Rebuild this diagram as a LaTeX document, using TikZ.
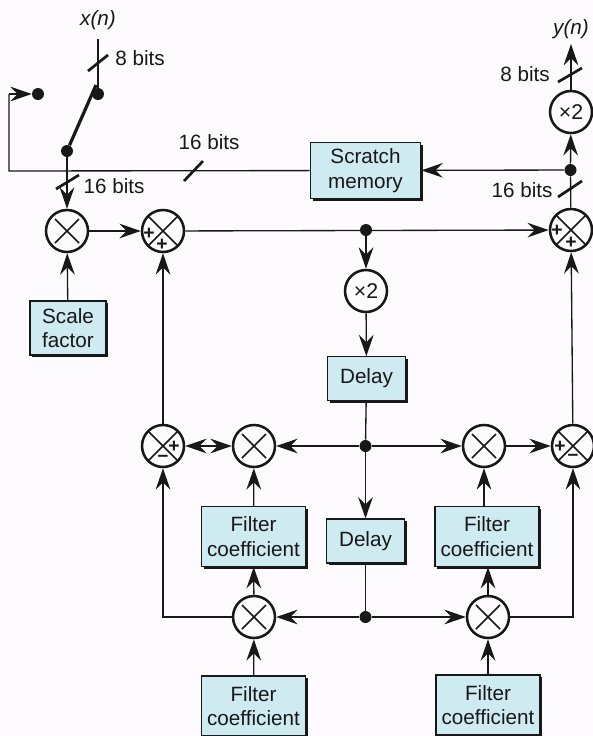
\documentclass[tikz,border=0pt]{standalone}
\usepackage{fontspec}
\setmainfont{Liberation Sans}
\usetikzlibrary{arrows.meta,shadows,calc}
\definecolor{boxfill}{HTML}{CDEBF1}
\definecolor{ink}{HTML}{1A1718}
\definecolor{paper}{HTML}{FDFBFE}
\tikzset{
  x=0.75pt,y=-0.75pt,
  every node/.style={text=ink},
  wire/.style={draw=ink,line width=1pt},
  flow/.style={wire,-{Stealth[length=16pt,width=11pt,inset=5.5pt]}},
  dflow/.style={wire,{Stealth[length=16pt,width=11pt,inset=5.5pt]}-{Stealth[length=16pt,width=11pt,inset=5.5pt]}},
  blockbox/.style={draw=ink,line width=0.9pt,fill=boxfill,align=center,inner sep=0pt,
    font=\fontsize{15.5}{18.5}\selectfont,
    general shadow={fill=ink,shadow xshift=1.8pt,shadow yshift=-1.8pt}},
  ring/.style={circle,draw=ink,line width=1.9pt,fill=paper,minimum size=31.5pt,inner sep=0pt},
  mult/.style={ring,path picture={
    \draw[ink,line width=1.1pt] ($(path picture bounding box.center)+(-12,-12)$) -- ($(path picture bounding box.center)+(12,12)$);
    \draw[ink,line width=1.1pt] ($(path picture bounding box.center)+(12,-12)$) -- ($(path picture bounding box.center)+(-12,12)$);}},
  adder/.style={ring,path picture={
    \draw[ink,line width=1.1pt] ($(path picture bounding box.center)+(-16,-16)$) -- ($(path picture bounding box.center)+(16,16)$);
    \draw[ink,line width=1.1pt] ($(path picture bounding box.center)+(16,-16)$) -- ($(path picture bounding box.center)+(-16,16)$);}},
  timestwo/.style={ring,font=\fontsize{16}{18}\selectfont},
  joint/.style={circle,fill=ink,minimum size=9pt,inner sep=0pt},
  sign/.style={font=\fontsize{14.5}{14.5}\selectfont\bfseries,inner sep=0pt},
  lab/.style={font=\fontsize{15.5}{18}\selectfont,inner sep=0pt},
  slash/.style={draw=ink,line width=2pt},
  switcharm/.style={draw=ink,line width=2.4pt}
}
\begin{document}
\begin{tikzpicture}
\useasboundingbox (0,0) rectangle (593,736);
\fill[paper] (0,0) rectangle (593,736);
\clip (0,0) rectangle (593,736);

% end points and labels
\node[lab,font=\fontsize{15.5}{18}\selectfont\itshape] (xn) at (98,20) {x(n)};
\node[lab,font=\fontsize{15.5}{18}\selectfont\itshape] (yn) at (571,29) {y(n)};
\coordinate (xtop) at (98,39);
\coordinate (ytop) at (571,44);
\coordinate (fbcorner) at (9,171);
\coordinate (fbup) at (9,94);

% switch
\node[joint] (swin) at (98,94) {};
\node[joint] (swfb) at (38,94) {};
\node[joint] (swout) at (67,151) {};

% blocks
\node[blockbox,minimum width=83pt,minimum height=42.5pt] (scratch) at (365.5,170.5) {\raisebox{-1pt}{Scratch}\\\raisebox{-1.5pt}{memory}};
\node[blockbox,minimum width=57pt,minimum height=40.5pt] (scale) at (68,328) {Scale\\factor};
\node[blockbox,minimum width=58.5pt,minimum height=32.5pt] (delayA) at (366.5,378.5) {\raisebox{-1pt}{Delay}};
\node[blockbox,minimum width=58.5pt,minimum height=33pt] (delayB) at (365.5,541) {\raisebox{-0.5pt}{Delay}};
\node[blockbox,minimum width=78pt,minimum height=45pt] (filtL) at (253.5,536.5) {Filter\\coefficient};
\node[blockbox,minimum width=78pt,minimum height=45pt] (filtR) at (487,536.5) {Filter\\coefficient};
\node[blockbox,minimum width=78pt,minimum height=45pt] (filtLb) at (253.5,706) {Filter\\coefficient};
\node[blockbox,minimum width=78pt,minimum height=45pt] (filtRb) at (488,705) {Filter\\coefficient};

% joints
\node[joint] (jtop) at (366,230) {};
\node[joint] (jmid) at (365.5,446) {};
\node[joint] (jlow) at (365.5,617) {};
\node[joint] (jout) at (570.5,170) {};

% rings
\node[mult] (m1) at (67,231) {};
\node[adder] (a1) at (163,231) {};
\node[adder] (a2) at (571,230) {};
\node[timestwo] (x2out) at (571,112) {×2};
\node[timestwo] (x2mid) at (366,291) {×2};
\node[adder] (addL) at (163,446) {};
\node[adder] (addR) at (573,446) {};
\node[mult] (mL) at (254,446) {};
\node[mult] (mR) at (484,446) {};
\node[mult] (mLb) at (254,617) {};
\node[mult] (mRb) at (488,617) {};

% signs
\node[sign] (s1) at (149,234) {+};
\node[sign] (s2) at (162,245) {+};
\node[sign] (s3) at (557,231) {+};
\node[sign] (s4) at (571,243) {+};
\node[sign] (s5) at (174,447) {+};
\node[sign] (s6) at (163,458) {–};
\node[sign] (s7) at (560,447) {+};
\node[sign] (s8) at (573,457) {–};

% connectors: input and switch
\draw[wire] (xtop) -- (swin);
\draw[switcharm] (swout) -- ($(swin)+(-2,-9)$);
\draw[flow] (swout) -- (m1);
\draw[wire] (scratch) -- (fbcorner) -- (fbup);
\draw[flow] (fbup) -- (swfb);

% forward path
\draw[flow] (m1) -- (a1);
\draw[flow] (a1) -- (a2);
\draw[flow] (scale) -- (m1);
\draw[flow] (jtop) -- (x2mid);
\draw[flow] (x2mid) -- (delayA);
\draw[wire] (delayA) -- (jmid);
\draw[flow] (jmid) -- (delayB);
\draw[wire] (delayB) -- (jlow);

% output
\draw[wire] (a2) -- (jout);
\draw[flow] (jout) -- (x2out);
\draw[flow] (x2out) -- (ytop);
\draw[flow] (jout) -- (scratch);

% middle row
\draw[flow] (jmid) -- (mL);
\draw[dflow] (addL) -- (mL);
\draw[flow] (jmid) -- (mR);
\draw[flow] (mR) -- (addR);
\draw[flow] (addL) -- (a1);
\draw[flow] (addR) -- (a2);

% filters
\draw[flow] (filtL) -- (mL);
\draw[flow] (mR |- filtR.north) -- (mR);
\draw[flow] (mLb) -- (filtL);
\draw[flow] (mRb) -- (mRb |- filtR.south);
\draw[flow] (filtLb) -- (mLb);
\draw[flow] (filtRb) -- (mRb);

% lower row
\draw[flow] (jlow) -- (mLb);
\draw[flow] (jlow) -- (mRb);
\draw[flow] (mLb) -| (addL);
\draw[flow] (mRb) -| (addR);

% bus widths
\coordinate (b1a) at (88,71); \coordinate (b1b) at (108,55);
\coordinate (b2a) at (56,189); \coordinate (b2b) at (79,175);
\coordinate (b3a) at (184,181); \coordinate (b3b) at (203,161);
\coordinate (b4a) at (558,82); \coordinate (b4b) at (582,68);
\coordinate (b5a) at (558,197); \coordinate (b5b) at (582,181);
\draw[slash] (b1a) -- (b1b);
\draw[slash] (b2a) -- (b2b);
\draw[slash] (b3a) -- (b3b);
\draw[slash] (b4a) -- (b4b);
\draw[slash] (b5a) -- (b5b);
\node[lab] (l1) at (140,58) {8 bits};
\node[lab] (l2) at (114,186) {16 bits};
\node[lab] (l3) at (209,142) {16 bits};
\node[lab] (l4) at (525,74) {8 bits};
\node[lab] (l5) at (522,190) {16 bits};
\end{tikzpicture}
\end{document}
